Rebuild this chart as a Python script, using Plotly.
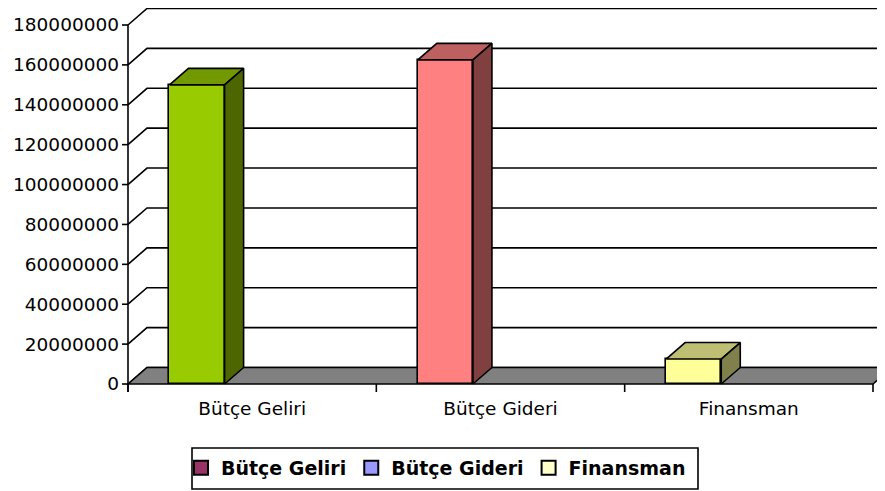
import plotly.graph_objects as go

# ---------------- data ----------------
categories = ["Bütçe Geliri", "Bütçe Gideri", "Finansman"]
values = [150000000, 162500000, 12500000]
tick_values = [0, 20000000, 40000000, 60000000, 80000000, 100000000,
               120000000, 140000000, 160000000, 180000000]
tick_labels = [str(v) for v in tick_values]
legend_names = ["Bütçe Geliri", "Bütçe Gideri", "Finansman"]

# ---------------- styles ----------------
front_colors = ["#99CC00", "#FF8080", "#FFFF99"]
top_colors = ["#739900", "#BF6060", "#BFBF73"]
side_colors = ["#4D6600", "#804040", "#80804D"]
legend_colors = ["#993366", "#9999FF", "#FFFFCC"]
FONT = "DejaVu Sans"

# ---------------- geometry (page pixels) ----------------
OFF = 8                                # default body margin of the page
PAGE_W, PAGE_H = 885, 491
W, H = PAGE_W - OFF, PAGE_H - OFF      # figure size
PL, PR, PT, PB = 120, 885, 8, 392      # plot area in page pixels
Y0PX, YTOPPX = 384, 25                 # page rows of 0 and top tick
X0PX, X3PX = 128, 873                  # front floor edge (category 0..3)
cat_px = (X3PX - X0PX) / len(categories)
k = tick_values[-1] / (Y0PX - YTOPPX)  # value per pixel
xr = [-(X0PX - PL) / cat_px, (PR - X0PX) / cat_px]
yr = [-(PB - Y0PX) * k, tick_values[-1] + (YTOPPX - PT) * k]
dx = 19 / cat_px                       # depth offset, x units
dy = 16.5 * k                          # depth offset, y units
bar_off = -0.333
bar_w = 0.222
LW = 1.6


def px_to_paper_x(p):
    return (p - PL) / (PR - PL)


def px_to_paper_y(p):
    return (PB - p) / (PB - PT)


shapes = []
# back-wall gridlines with diagonal connectors
for v in tick_values:
    shapes.append(dict(type="path", xref="x", yref="y",
                       path=f"M 0,{v} L {dx},{v+dy} L {xr[1]+1},{v+dy}",
                       line=dict(color="black", width=LW), layer="below"))
# floor
n = len(categories)
shapes.append(dict(type="path", xref="x", yref="y",
                   path=f"M 0,0 L {dx},{dy} L {n+dx},{dy} L {n},0 Z",
                   fillcolor="#808080", line=dict(color="black", width=LW),
                   layer="below"))
# vertical axis line
shapes.append(dict(type="line", xref="x", yref="y", x0=0, x1=0,
                   y0=yr[0], y1=tick_values[-1],
                   line=dict(color="black", width=LW), layer="above"))
# y tick marks
for v in tick_values:
    shapes.append(dict(type="line", xref="x", yref="y", x0=-6 / cat_px, x1=0,
                       y0=v, y1=v, line=dict(color="black", width=LW),
                       layer="above"))
# category boundary ticks
for i in range(n + 1):
    shapes.append(dict(type="line", xref="x", yref="y", x0=i, x1=i,
                       y0=yr[0], y1=0, line=dict(color="black", width=LW),
                       layer="above"))
# legend box
shapes.append(dict(type="rect", xref="paper", yref="paper",
                   x0=px_to_paper_x(192), x1=px_to_paper_x(698),
                   y0=px_to_paper_y(489), y1=px_to_paper_y(448),
                   line=dict(color="black", width=LW), fillcolor="white",
                   layer="below"))

fig = go.Figure()

# front faces of bars
fig.add_trace(go.Bar(
    x=[i + 0.5 for i in range(n)], y=values,
    offset=bar_off, width=bar_w,
    marker=dict(color=front_colors, line=dict(color="black", width=LW)),
    showlegend=False, hoverinfo="skip"))

# top and side faces
for i, v in enumerate(values):
    xl = i + 0.5 + bar_off
    xrr = xl + bar_w
    fig.add_trace(go.Scatter(
        x=[xl, xl + dx, xrr + dx, xrr, xl],
        y=[v, v + dy, v + dy, v, v],
        fill="toself", fillcolor=top_colors[i], mode="lines",
        line=dict(color="black", width=LW),
        showlegend=False, hoverinfo="skip"))
    fig.add_trace(go.Scatter(
        x=[xrr, xrr + dx, xrr + dx, xrr, xrr],
        y=[0, dy, v + dy, v, 0],
        fill="toself", fillcolor=side_colors[i], mode="lines",
        line=dict(color="black", width=LW),
        showlegend=False, hoverinfo="skip"))

# legend entries
for name, c in zip(legend_names, legend_colors):
    fig.add_trace(go.Scatter(
        x=[None], y=[None], mode="markers", name=name,
        marker=dict(symbol="square", size=14, color=c,
                    line=dict(color="black", width=2))))

fig.update_layout(
    width=W, height=H,
    margin=dict(l=PL - OFF, r=PAGE_W - PR, t=PT - OFF, b=PAGE_H - PB, pad=0),
    paper_bgcolor="white", plot_bgcolor="white",
    font=dict(family=FONT, size=18.5, color="black"),
    shapes=shapes,
    showlegend=True,
    legend=dict(orientation="h", x=px_to_paper_x(181), xanchor="left",
                y=px_to_paper_y(468), yanchor="middle",
                bgcolor="rgba(0,0,0,0)", borderwidth=0,
                font=dict(family=FONT, size=19, color="black", weight="bold"),
                itemclick=False, itemdoubleclick=False),
    xaxis=dict(range=xr, showgrid=False, zeroline=False, showline=False,
               tickmode="array", tickvals=[i + 0.5 for i in range(n)],
               ticktext=categories, ticks="", ticklabelstandoff=3,
               fixedrange=True),
    yaxis=dict(range=yr, showgrid=False, zeroline=False, showline=False,
               tickmode="array", tickvals=tick_values, ticktext=tick_labels,
               ticks="", fixedrange=True),
    bargap=0,
)

fig.write_html("out.html")
